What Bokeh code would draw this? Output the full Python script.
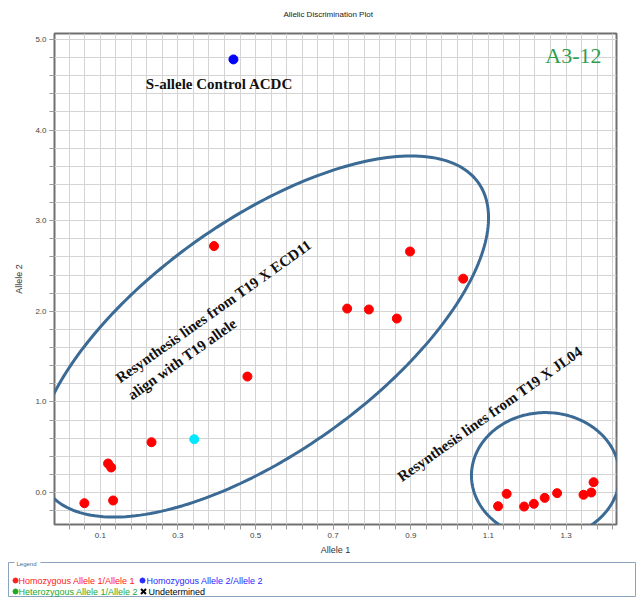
import numpy as np
from bokeh.plotting import figure
from bokeh.models import Range1d, FixedTicker, PrintfTickFormatter, Label, PolyAnnotation, Title
from bokeh.layouts import column, row
from bokeh.core.properties import value
from bokeh.embed import file_html
from bokeh.resources import INLINE

# ---------------- data ----------------
hom1_x = [0.059, 0.133, 0.120, 0.128, 0.232, 0.393, 0.479, 0.736, 0.792, 0.864,
          0.898, 1.035, 1.125, 1.147, 1.192, 1.217, 1.245, 1.277, 1.345, 1.365, 1.371]
hom1_y = [-0.118, -0.088, 0.320, 0.276, 0.555, 2.720, 1.280, 2.030, 2.020, 1.920,
          2.660, 2.360, -0.151, -0.015, -0.155, -0.125, -0.059, -0.007, -0.025, 0.000, 0.114]
hom2_x = [0.443]
hom2_y = [4.78]
other_x = [0.342]
other_y = [0.588]

x_major = [0.1, 0.3, 0.5, 0.7, 0.9, 1.1, 1.3]
y_major = [0.0, 1.0, 2.0, 3.0, 4.0, 5.0]

legend_labels = ["Homozygous Allele 1/Allele 1", "Homozygous Allele 2/Allele 2",
                 "Heterozygous Allele 1/Allele 2", "Undetermined"]
legend_colors = ["#ff2020", "#2a2aff", "#1fa81f", "#000000"]

# ---------------- layout constants ----------------
W, H = 638, 560
BL, BR, BT, BB = 54, 22, 33, 36
X0, X1 = -0.018, 1.430
Y0, Y1 = -0.353, 5.066
FW, FH = W - BL - BR, H - BT - BB
sx = FW / (X1 - X0)
sy = FH / (Y1 - Y0)

FONT = value("Liberation Sans")

p = figure(width=W, height=H, x_range=Range1d(X0, X1), y_range=Range1d(Y0, Y1),
           output_backend="svg", toolbar_location=None,
           min_border_left=BL, min_border_right=BR, min_border_top=BT, min_border_bottom=BB)

# thin spacer between frame and title (title stays outermost)
p.add_layout(Title(text=" ", text_font_size="2px", standoff=1), "above")

p.title.text = "Allelic Discrimination Plot"
p.title.align = "left"
p.title.offset = 229
p.title.vertical_align = "top"
p.title.text_font = "Liberation Sans"
p.title.text_font_size = "8px"
p.title.text_font_style = "normal"
p.title.text_color = "#222222"
p.title.standoff = 15

p.outline_line_color = "#707070"
p.outline_line_width = 2

x_minor = [round(-0.02 + 0.04 * i, 3) for i in range(38) if -0.02 + 0.04 * i < X1]
y_minor = [round(-0.2 + 0.2 * i, 2) for i in range(27)]

p.xaxis.ticker = FixedTicker(ticks=x_major, minor_ticks=x_minor)
p.yaxis.ticker = FixedTicker(ticks=y_major, minor_ticks=y_minor)
for ax in (p.xaxis, p.yaxis):
    ax.formatter = PrintfTickFormatter(format="%.1f")
    ax.axis_line_color = None
    ax.major_tick_in = 0
    ax.minor_tick_in = 0
    ax.major_tick_out = 5
    ax.minor_tick_out = 5
    ax.major_tick_line_color = "#9a9a9a"
    ax.minor_tick_line_color = "#9a9a9a"
    ax.major_label_text_font = "Liberation Sans"
    ax.major_label_text_font_size = "8px"
    ax.major_label_text_color = "#444444"
    ax.major_label_standoff = 3
    ax.axis_label_text_font = "Liberation Sans"
    ax.axis_label_text_font_size = "9px"
    ax.axis_label_text_font_style = "normal"
    ax.axis_label_text_color = "#333333"
p.xaxis.axis_label = "Allele 1"
p.yaxis.axis_label = "Allele 2"
p.xaxis.axis_label_standoff = 4
p.yaxis.axis_label_standoff = 8

for g in (p.xgrid, p.ygrid):
    g.grid_line_color = "#d4d4d4"
    g.minor_grid_line_color = "#d4d4d4"
    g.grid_line_width = 1
    g.minor_grid_line_width = 1

p.scatter(hom1_x, hom1_y, size=9, color="#ff0000")
p.scatter(hom2_x, hom2_y, size=9, color="#0000ff")
p.scatter(other_x, other_y, size=9, color="#00e8ff")


def ellipse(cx, cy, a_px, b_px, ang_deg, n=240):
    t = np.linspace(0, 2 * np.pi, n)
    th = np.radians(ang_deg)
    dx = a_px * np.cos(t) * np.cos(th) - b_px * np.sin(t) * np.sin(th)
    dy = a_px * np.cos(t) * np.sin(th) + b_px * np.sin(t) * np.cos(th)
    return list(cx + dx / sx), list(cy + dy / sy)


ELL = "#3b6a95"
ex, ey = ellipse(0.518, 1.722, 265, 116, 35.5)
p.add_layout(PolyAnnotation(xs=ex, ys=ey, fill_alpha=0, line_color=ELL, line_alpha=1,
                            line_width=3))
ex, ey = ellipse(1.247, 0.187, 74, 63, 0)
p.add_layout(PolyAnnotation(xs=ex, ys=ey, fill_alpha=0, line_color=ELL, line_alpha=1,
                            line_width=3))

ang = np.radians(35.3)
common = dict(text_font="Liberation Serif", text_font_style="bold", text_font_size="15px",
              text_color="#111111")
p.add_layout(Label(x=0.144, y=1.247, text="Resynthesis lines from T19 X ECD11", angle=ang,
                   text_align="left", text_baseline="middle", **common))
p.add_layout(Label(x=0.175, y=1.060, text="align with T19 allele", angle=ang,
                   text_align="left", text_baseline="middle", **common))
p.add_layout(Label(x=0.870, y=0.159, text="Resynthesis lines from T19 X JL04", angle=ang,
                   text_align="left", text_baseline="middle", **common))
p.add_layout(Label(x=0.407, y=4.514, text="S-allele Control ACDC",
                   text_align="center", text_baseline="middle", **common))
p.add_layout(Label(x=1.319, y=4.823, text="A3-12", text_font="Liberation Serif",
                   text_font_size="22px", text_color="#2f9e4f",
                   text_align="center", text_baseline="middle"))

# ---------------- legend panel (pixel coordinates) ----------------
LW, LH = 638, 38
leg = figure(width=LW, height=LH, x_range=Range1d(0, LW), y_range=Range1d(LH, 0),
             output_backend="svg", toolbar_location=None, x_axis_type=None, y_axis_type=None,
             min_border=0, min_border_left=0, min_border_right=0, min_border_top=0,
             min_border_bottom=0, outline_line_color=None)
leg.grid.visible = False
BC = "#8ca3bf"
leg.multi_line([[8, 14], [40, 635], [635, 635], [635, 8], [8, 8]],
               [[2, 2], [2, 2], [2, 36], [36, 36], [36, 2]], line_color=BC, line_width=1)
leg.text([16], [3], text=["Legend"], text_font=FONT, text_font_size="6px",
         text_color="#4a6a8a", text_baseline="middle")

leg.scatter([15, 142, 15], [20, 20, 31], size=5, color=legend_colors[:3])
leg.scatter([143], [31], marker="x", size=7, line_color=legend_colors[3], line_width=2)
leg.text([18, 146, 18, 148], [20, 20, 31, 31], text=legend_labels, text_font=FONT,
         text_font_size="9px", text_color=legend_colors, text_baseline="middle")

layout = column(p, row(leg, spacing=0), spacing=0)
open("out.html", "w").write(file_html(layout, INLINE))
